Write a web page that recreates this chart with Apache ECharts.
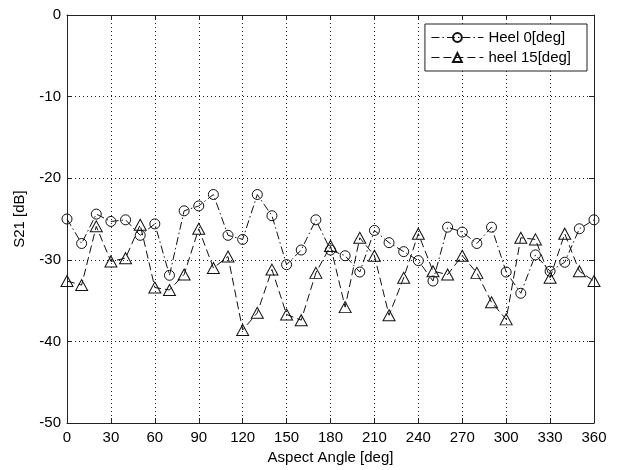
<!DOCTYPE html>
<html>
<head>
<meta charset="utf-8">
<script src="https://cdn.jsdelivr.net/npm/echarts@6/dist/echarts.min.js"></script>
<style>
  html, body { margin: 0; padding: 0; background: #fff; }
  #chart { width: 619px; height: 470px; }
</style>
</head>
<body>
<div id="chart"></div>
<script>
/* Aspect angle sweep, S21 in dB */
const angles = [0, 10, 20, 30, 40, 50, 60, 70, 80, 90, 100, 110, 120, 130, 140, 150, 160, 170, 180,
    190, 200, 210, 220, 230, 240, 250, 260, 270, 280, 290, 300, 310, 320, 330, 340, 350, 360];
const heel0 = [-25.0, -28.0, -24.4, -25.3, -25.1, -27.0, -25.6, -31.9, -24.0, -23.4, -22.0, -27.0, -27.5,
    -22.0, -24.6, -30.6, -28.8, -25.1, -28.8, -29.5, -31.5, -26.4, -27.9, -29.0, -30.1, -32.6, -26.0,
    -26.6, -28.0, -26.0, -31.5, -34.1, -29.4, -31.4, -30.3, -26.2, -25.1];
const heel15 = [-32.6, -33.1, -25.9, -30.2, -29.8, -25.7, -33.4, -33.7, -31.8, -26.2, -31.0, -29.6, -38.6,
    -36.5, -31.2, -36.7, -37.4, -31.6, -28.3, -35.8, -27.3, -29.5, -36.8, -32.2, -26.8, -31.4, -31.8,
    -29.5, -31.6, -35.2, -37.3, -27.3, -27.5, -32.2, -26.8, -31.4, -32.6];
const seriesNames = ['Heel 0[deg]', 'heel 15[deg]'];
const xTicks = { min: 0, max: 360, step: 30 };
const yTicks = { min: -50, max: 0, step: 10 };

const font = "'Liberation Sans', Arial, sans-serif";
const pairs = (ys) => angles.map((a, i) => [a, ys[i]]);

let chartDom = document.getElementById('chart');
let myChart = echarts.init(chartDom);

// shared axis look, matlab style box with inward ticks
const axisBase = {
    axisLine: { show: true, onZero: false, lineStyle: { color: '#222', width: 1 } },
    axisTick: { show: true, inside: true, length: 5, lineStyle: { color: '#222' } },
};

let option = {
    animation: false,
    backgroundColor: '#fff',
    grid: { left: 67, right: 25, top: 15, bottom: 43, containLabel: false },
    legend: {
        data: seriesNames,
        orient: 'vertical',
        right: 32,
        top: 24,
        itemWidth: 52,
        itemHeight: 11,
        itemGap: 5,
        padding: [6, 16, 6, 6],
        backgroundColor: '#fff',
        borderColor: '#222',
        borderWidth: 1,
        borderRadius: 0,
        lineStyle: { width: 1 },
        textStyle: { fontFamily: font, fontSize: 15, color: '#000' },
    },
    xAxis: [
        {
            ...axisBase,
            type: 'value',
            position: 'bottom',
            min: xTicks.min, max: xTicks.max, interval: xTicks.step,
            name: 'Aspect Angle [deg]',
            nameLocation: 'middle',
            nameGap: 27,
            nameTextStyle: { fontFamily: font, fontSize: 15, color: '#000' },
            axisLabel: { fontFamily: font, fontSize: 15, color: '#000', margin: 7 },
            splitLine: { show: true, lineStyle: { color: '#222', type: [1, 3], width: 1 } },
        },
        {
            ...axisBase,
            type: 'value',
            position: 'top',
            min: xTicks.min, max: xTicks.max, interval: xTicks.step,
            axisLabel: { show: false },
            splitLine: { show: false },
        },
    ],
    yAxis: [
        {
            ...axisBase,
            type: 'value',
            position: 'left',
            min: yTicks.min, max: yTicks.max, interval: yTicks.step,
            name: 'S21 [dB]',
            nameLocation: 'middle',
            nameRotate: 90,
            nameGap: 40,
            nameTextStyle: { fontFamily: font, fontSize: 15, color: '#000' },
            axisLabel: { fontFamily: font, fontSize: 15, color: '#000', margin: 6 },
            splitLine: { show: true, lineStyle: { color: '#222', type: [1, 3], width: 1 } },
        },
        {
            ...axisBase,
            type: 'value',
            position: 'right',
            min: yTicks.min, max: yTicks.max, interval: yTicks.step,
            axisLabel: { show: false },
            splitLine: { show: false },
        },
    ],
    series: [
        {
            name: seriesNames[0],
            type: 'line',
            data: pairs(heel0),
            symbol: 'circle',
            symbolSize: 10,
            showAllSymbol: true,
            lineStyle: { color: '#111', width: 1, type: [8, 3, 1.5, 3] },
            itemStyle: { color: 'rgba(255,255,255,0)', borderColor: '#111', borderWidth: 1 },
            z: 3,
        },
        {
            name: seriesNames[1],
            type: 'line',
            data: pairs(heel15),
            symbol: 'triangle',
            symbolSize: [12, 11],
            showAllSymbol: true,
            lineStyle: { color: '#111', width: 1, type: [8, 4] },
            itemStyle: { color: 'rgba(255,255,255,0)', borderColor: '#111', borderWidth: 1 },
            z: 3,
        },
    ],
};

option && myChart.setOption(option);

window.addEventListener('resize', () => {
    myChart.resize();
});
</script>
</body>
</html>
